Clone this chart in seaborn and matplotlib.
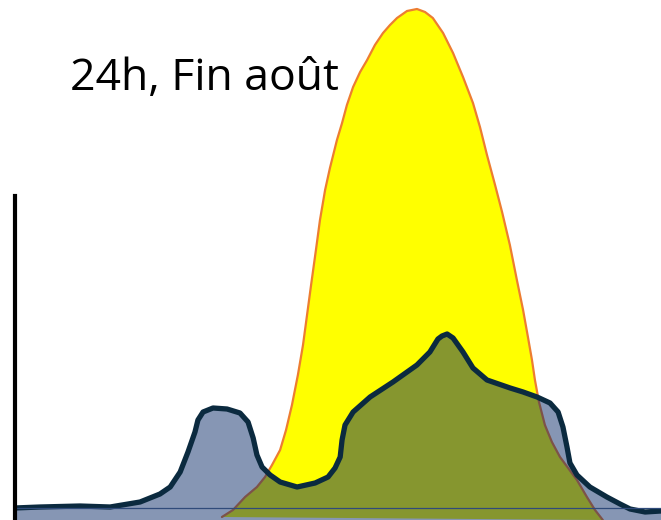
import matplotlib
matplotlib.use("Agg")
import matplotlib.pyplot as plt
import seaborn as sns
import pandas as pd

sns.set_theme(style="white")
plt.rcParams['font.family'] = ['Open Sans', 'DejaVu Sans']

# Consumption (hours, relative level)
conso_h = [0.0, 0.95, 2.43, 3.55, 4.66, 5.40, 5.78, 6.15, 6.44, 6.70, 6.81, 7.00, 7.37, 7.89,
           8.37, 8.67, 8.86, 9.00, 9.19, 9.49, 9.86, 10.49, 11.16, 11.64, 11.90, 12.09, 12.16,
           12.27, 12.57, 13.20, 14.05, 14.94, 15.42, 15.72, 15.87, 16.06, 16.28, 16.65, 17.02,
           17.54, 18.40, 18.88, 19.40, 19.88, 20.18, 20.36, 20.51, 20.62, 20.88, 21.36, 21.99,
           22.48, 22.85, 23.41, 24.0]
conso_v = [0.0, 0.2, 0.4, 0.2, 1.2, 2.8, 4.2, 7.2, 11.2, 15.2, 17.6, 19.2, 20.0, 19.8,
           19.0, 17.2, 14.0, 10.6, 8.2, 6.6, 5.2, 4.2, 5.0, 6.2, 8.0, 10.2, 13.6,
           16.6, 19.2, 22.2, 25.2, 28.6, 31.2, 33.8, 34.4, 34.8, 34.0, 31.2, 28.0,
           25.6, 24.0, 23.2, 22.2, 21.0, 19.2, 16.2, 12.2, 9.0, 6.6, 4.2, 2.2,
           0.8, -0.2, -0.8, -0.6]

# Solar production (hours, relative level)
solar_h = [7.70, 8.11, 8.56, 9.00, 9.30, 9.56, 9.86, 10.08, 10.30, 10.52, 10.71, 10.86, 11.01,
           11.19, 11.34, 11.53, 11.71, 11.97, 12.16, 12.34, 12.57, 12.83, 13.09, 13.38, 13.68,
           13.94, 14.20, 14.57, 14.94, 15.24, 15.53, 15.91, 16.28, 16.65, 17.02, 17.28, 17.54,
           17.84, 18.10, 18.39, 18.65, 18.88, 19.06, 19.21, 19.32, 19.47, 19.69, 19.95, 20.25,
           20.88, 21.25, 21.55, 21.84]
solar_v = [-1.8, -0.4, 2.2, 4.2, 6.2, 8.6, 11.6, 15.6, 20.6, 26.6, 32.6, 38.6, 44.6,
           51.6, 57.6, 63.6, 68.0, 73.6, 77.0, 80.6, 84.2, 87.2, 89.6, 92.6, 95.0,
           96.6, 98.0, 99.4, 99.8, 99.2, 98.0, 95.0, 91.0, 86.2, 81.0, 76.2, 70.6,
           64.6, 59.2, 52.6, 45.6, 39.6, 34.2, 29.6, 25.6, 21.2, 16.6, 13.2, 10.2,
           5.6, 2.2, -0.4, -2.4]

title = "24h, Fin août"

conso = pd.DataFrame({"h": conso_h, "v": conso_v})
solar = pd.DataFrame({"h": solar_h, "v": solar_v})

fig = plt.figure(figsize=(6.61, 5.20), dpi=100)
ax = fig.add_axes([14.5 / 661, 0, 1 - 14.5 / 661, 1])
ax.set_xlim(0, 24)
ax.set_ylim(-2.4, 101.6)
ax.set_facecolor("white")

# solar area
ax.fill(solar["h"], solar["v"], color="#FFFF00", lw=0, zorder=1)
sns.lineplot(data=solar, x="h", y="v", sort=False, estimator=None, ax=ax,
             color="#ED7D31", lw=1.6, zorder=2, solid_joinstyle="round")

# consumption area (semi-transparent navy)
ax.fill_between(conso["h"], conso["v"], -5, color="#032464", alpha=0.48, lw=0, zorder=3)
sns.lineplot(data=conso, x="h", y="v", sort=False, estimator=None, ax=ax,
             color="#0B2A3F", lw=3.8, zorder=4, solid_capstyle="round", solid_joinstyle="round")

# baseline
ax.axhline(0, color="#2F4A7A", lw=0.9, zorder=5)

for s in ["top", "right", "bottom"]:
    ax.spines[s].set_visible(False)
ax.spines["left"].set_color("black")
ax.spines["left"].set_linewidth(3.0)
ax.spines["left"].set_bounds(-2.4, 62.4)
ax.spines["left"].set_zorder(6)
ax.set_xticks([])
ax.set_yticks([])
ax.set_xlabel("")
ax.set_ylabel("")
ax.grid(False)

fig.text(70 / 661, 1 - 90 / 520, title, fontsize=32, color="black",
         ha="left", va="baseline")

fig.savefig("out.png", dpi=100)
